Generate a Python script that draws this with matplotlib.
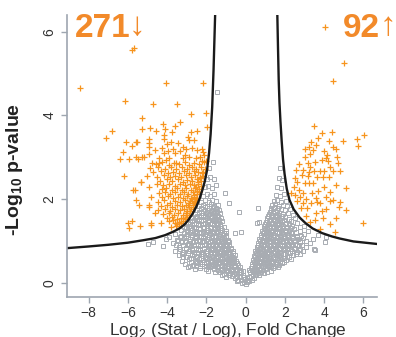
import numpy as np
import matplotlib
matplotlib.use("Agg")
from matplotlib import pyplot as plt

plt.rcParams['font.family'] = ['Liberation Sans', 'DejaVu Sans']
plt.rcParams['mathtext.fontset'] = 'custom'
plt.rcParams['mathtext.rm'] = 'Liberation Sans'
plt.rcParams['mathtext.bf'] = 'Liberation Sans:bold'

# threshold curves (log2 fold change, -log10 p)
curve_left_x = [-9.1, -8.0, -7.0, -6.0, -5.2, -4.6, -4.1, -3.7, -3.37, -3.1, -2.9, -2.69,
                -2.5, -2.35, -2.2, -2.08, -1.96, -1.86, -1.78, -1.7, -1.63, -1.55]
curve_left_y = [0.83, 0.87, 0.91, 0.96, 1.02, 1.07, 1.14, 1.22, 1.30, 1.40, 1.51, 1.66,
                1.83, 2.0, 2.22, 2.42, 2.70, 3.1, 3.55, 4.2, 5.1, 6.40]
curve_right_x = [1.62, 1.655, 1.69, 1.73, 1.78, 1.84, 1.91, 1.99, 2.1, 2.24, 2.45, 2.76,
                 3.05, 3.42, 3.9, 4.4, 4.8, 5.5, 6.7]
curve_right_y = [6.4, 5.6, 4.85, 4.3, 3.85, 3.4, 2.95, 2.6, 2.25, 1.98, 1.76, 1.56,
                 1.43, 1.30, 1.19, 1.11, 1.06, 0.99, 0.93]

# significant down (left, orange)
down_pts = [
    (-5.78, 5.57), (-5.71, 5.61), (-8.42, 4.66), (-4.05, 4.77), (-2.16, 4.78), (-6.12, 4.35),
    (-4.74, 4.28), (-3.5, 4.28), (-2.77, 4.04), (-2.02, 4.05), (-5.29, 3.93), (-4.22, 3.79),
    (-3.32, 3.84), (-5.26, 3.68), (-4.88, 3.70), (-4.58, 3.62), (-4.12, 3.68), (-3.62, 3.76),
    (-3.74, 3.61), (-2.48, 3.64), (-2.76, 3.60), (-1.95, 3.72), (-6.8, 3.64), (-7.09, 3.46),
    (-6.09, 3.37), (-5.8, 3.28), (-5.53, 3.37), (-4.93, 3.44), (-4.93, 3.35), (-4.93, 3.24),
    (-4.17, 3.54), (-4.17, 3.43), (-4.0, 3.33), (-3.79, 3.37), (-3.45, 3.34), (-3.2, 3.25),
    (-2.94, 3.48), (-2.89, 3.41), (-2.65, 3.41), (-6.26, 3.13), (-6.38, 2.97), (-5.95, 2.97),
    (-5.58, 3.01), (-5.49, 2.95), (-5.27, 3.01), (-5.15, 3.01), (-4.9, 3.08), (-4.76, 2.86),
    (-4.42, 2.98), (-4.39, 2.86), (-4.17, 3.11), (-4.05, 2.94), (-3.88, 2.98), (-3.57, 3.10),
    (-3.54, 2.86), (-3.2, 2.98), (-3.11, 3.06), (-2.86, 3.01), (-2.55, 2.98), (-2.3, 3.01),
    (-2.18, 3.13), (-2.0, 2.92), (-6.22, 2.56), (-5.32, 2.40), (-5.61, 2.22), (-4.93, 2.30),
    (-4.83, 2.04), (-4.93, 1.86), (-4.61, 1.66), (-4.81, 1.42), (-6.0, 1.42), (-5.78, 1.48),
    (-5.92, 1.30), (-5.36, 1.37), (-4.83, 1.38), (-5.58, 3.37), (-5.41, 1.86), (-4.9, 1.82),
    (-5.32, 2.42), (-5.75, 2.22), (-5.58, 1.98),
    (-4.62, 3.18), (-4.28, 3.22), (-3.96, 3.16), (-3.68, 3.21), (-3.32, 3.15), (-3.02, 3.19),
    (-2.72, 3.23), (-2.47, 3.17), (-2.21, 3.2),
    (-4.58, 2.83), (-4.24, 2.88), (-3.92, 2.82), (-3.63, 2.87), (-3.37, 2.84), (-3.08, 2.89),
    (-2.88, 2.81), (-2.61, 2.86), (-2.38, 2.83), (-2.13, 2.88),
    (-4.88, 2.74), (-4.46, 2.77), (-4.08, 2.72), (-3.79, 2.76), (-3.52, 2.73), (-3.24, 2.78),
    (-2.99, 2.72), (-2.74, 2.76), (-2.52, 2.71), (-2.27, 2.77), (-2.06, 2.73),
    (-4.72, 2.64), (-4.31, 2.67), (-3.96, 2.62), (-3.68, 2.66), (-3.41, 2.63), (-3.14, 2.68),
    (-2.86, 2.62), (-2.63, 2.67), (-2.41, 2.64), (-2.19, 2.66),
    (-5.02, 2.56), (-4.52, 2.53), (-4.16, 2.57), (-3.84, 2.52), (-3.57, 2.56), (-3.29, 2.53),
    (-3.04, 2.58), (-2.79, 2.54), (-2.56, 2.57), (-2.34, 2.52), (-2.15, 2.56),
    (-4.36, 2.44), (-4.02, 2.47), (-3.74, 2.43), (-3.46, 2.48), (-3.19, 2.42), (-2.96, 2.46),
    (-2.71, 2.43), (-2.49, 2.47), (-2.29, 2.44),
    (-4.51, 2.36), (-4.19, 2.33), (-3.89, 2.37), (-3.61, 2.32), (-3.36, 2.36), (-3.11, 2.33),
    (-2.84, 2.37), (-2.62, 2.34), (-2.41, 2.36), (-2.26, 2.32),
    (-4.28, 2.24), (-4.06, 2.27), (-3.76, 2.22), (-3.49, 2.26), (-3.24, 2.23), (-3.01, 2.27),
    (-2.79, 2.22), (-2.56, 2.26), (-2.36, 2.24),
    (-4.42, 2.14), (-4.11, 2.17), (-3.86, 2.12), (-3.59, 2.16), (-3.36, 2.13), (-3.14, 2.17),
    (-2.91, 2.12), (-2.69, 2.16), (-2.49, 2.13), (-2.37, 2.17),
    (-4.26, 2.04), (-3.96, 2.07), (-3.69, 2.02), (-3.44, 2.06), (-3.21, 2.03), (-2.99, 2.07),
    (-2.79, 2.02), (-2.61, 2.06), (-2.46, 2.03),
    (-4.48, 1.94), (-4.14, 1.97), (-3.86, 1.92), (-3.61, 1.96), (-3.34, 1.93), (-3.11, 1.97),
    (-2.89, 1.92), (-2.71, 1.96), (-2.56, 1.93),
    (-4.31, 1.84), (-3.99, 1.87), (-3.74, 1.82), (-3.51, 1.86), (-3.26, 1.83), (-3.04, 1.87),
    (-2.86, 1.82), (-2.67, 1.86),
    (-4.44, 1.74), (-4.09, 1.77), (-3.84, 1.72), (-3.61, 1.76), (-3.36, 1.73), (-3.14, 1.77),
    (-2.96, 1.72), (-2.77, 1.76),
    (-4.19, 1.64), (-3.91, 1.67), (-3.66, 1.62), (-3.44, 1.66), (-3.21, 1.63), (-3.01, 1.67),
    (-2.87, 1.63),
    (-4.02, 1.54), (-3.76, 1.57), (-3.51, 1.53), (-3.29, 1.56), (-3.09, 1.52), (-2.97, 1.58),
    (-4.31, 1.44), (-3.91, 1.47), (-3.61, 1.43), (-3.39, 1.46), (-3.19, 1.47),
    (-3.81, 1.34), (-3.56, 1.37), (-3.41, 1.36),
    (-2.45, 2.2), (-2.52, 2.0), (-2.62, 1.9), (-2.7, 1.82), (-2.82, 1.72), (-2.4, 2.4),
    (-2.3, 2.5), (-2.2, 2.62), (-2.55, 2.3), (-2.65, 2.1), (-2.75, 2.0), (-2.85, 1.95),
    (-2.95, 1.85), (-3.05, 1.62), (-3.2, 1.55), (-3.3, 1.42), (-3.5, 1.41), (-3.7, 1.5),
    (-2.2, 2.92), (-2.1, 3.05),
]

# significant up (right, orange)
up_pts = [
    (4.03, 6.12), (5.02, 5.25), (4.45, 4.83),
    (3.47, 3.76), (3.91, 3.57), (4.42, 3.61), (3.71, 3.47), (4.25, 3.40), (3.33, 3.37),
    (4.97, 3.40), (5.68, 3.44), (6.04, 3.54), (5.71, 3.28), (3.05, 3.21), (3.23, 3.25),
    (3.43, 3.17), (3.27, 3.08), (4.45, 3.25), (4.63, 3.21), (4.66, 3.01), (3.88, 2.94),
    (4.08, 2.98), (4.2, 2.92), (4.15, 3.06), (3.18, 2.86), (3.3, 2.76), (3.23, 2.66),
    (3.47, 2.68), (3.78, 2.68), (3.98, 2.68), (4.32, 2.78), (4.45, 2.68), (4.8, 2.68),
    (4.71, 2.86), (2.5, 2.51), (2.89, 2.58), (3.01, 2.38), (3.23, 2.38), (3.43, 2.39),
    (3.64, 2.52), (3.94, 2.52), (4.25, 2.54), (4.63, 2.35), (5.1, 2.27), (2.72, 2.23),
    (2.92, 2.15), (2.76, 2.06), (3.1, 2.01), (3.61, 2.02), (3.64, 1.94), (4.12, 2.06),
    (4.29, 2.18), (4.45, 1.98), (4.8, 1.94), (4.76, 1.82), (5.1, 1.74), (2.3, 2.15),
    (2.5, 2.1), (2.84, 1.80), (3.1, 1.60), (3.57, 1.66), (3.91, 1.72), (4.12, 1.76),
    (3.94, 1.54), (4.29, 1.40), (3.78, 1.28), (4.54, 1.22), (5.99, 1.42),
    (2.6, 2.4), (2.95, 2.7), (3.55, 2.9), (4.0, 3.15), (3.6, 3.3), (2.7, 2.85),
    (3.35, 1.92), (3.8, 1.9), (4.0, 2.3), (3.4, 2.15), (2.6, 1.95), (3.3, 1.45),
    (3.55, 1.5), (4.6, 1.55), (2.45, 2.3), (3.15, 1.78), (2.95, 1.9), (3.7, 2.2),
    (4.3, 1.95), (3.2, 2.55), (2.55, 2.7), (3.05, 3.0),
]

# not significant (grey)
ns_pts = [
    (-0.25, 0.06), (-0.1, 0.02), (0.0, -0.03), (0.08, 0.01), (0.2, 0.05), (-0.18, -0.01),
    (0.12, 0.08), (-0.05, 0.09),
    (-0.7, 0.16), (-0.55, 0.12), (-0.42, 0.17), (-0.3, 0.13), (-0.15, 0.18), (0.18, 0.14),
    (0.3, 0.17), (0.42, 0.12), (0.55, 0.18), (-0.85, 0.2),
    (-1.3, 0.27), (-1.1, 0.22), (-0.95, 0.28), (-0.8, 0.24), (-0.62, 0.29), (-0.5, 0.23),
    (-0.35, 0.27), (-0.22, 0.25), (0.25, 0.26), (0.38, 0.22), (0.5, 0.28), (0.65, 0.24),
    (0.8, 0.27), (0.95, 0.23),
    (-2.3, 0.36), (-2.0, 0.33), (-1.8, 0.38), (-1.6, 0.34), (-1.45, 0.37), (-1.25, 0.32),
    (-1.1, 0.38), (-0.92, 0.35), (-0.75, 0.33), (-0.6, 0.38), (-0.45, 0.34), (-0.3, 0.37),
    (0.28, 0.36), (0.42, 0.33), (0.58, 0.38), (0.72, 0.34), (0.88, 0.37), (1.05, 0.33),
    (1.2, 0.38), (1.4, 0.35), (1.65, 0.37), (-2.95, 0.38),
    (-3.1, 0.46), (-2.7, 0.43), (-2.45, 0.47), (-2.2, 0.44), (-2.0, 0.48), (-1.85, 0.42),
    (-1.68, 0.46), (-1.5, 0.44), (-1.35, 0.48), (-1.18, 0.43), (-1.02, 0.47), (-0.85, 0.44),
    (-0.7, 0.48), (-0.55, 0.43), (-0.42, 0.47), (0.32, 0.45), (0.48, 0.48), (0.62, 0.43),
    (0.78, 0.47), (0.92, 0.44), (1.08, 0.48), (1.25, 0.43), (1.42, 0.47), (1.6, 0.45),
    (1.85, 0.48),
    (-2.9, 0.56), (-2.6, 0.53), (-2.35, 0.57), (-2.15, 0.54), (-1.95, 0.58), (-1.78, 0.53),
    (-1.6, 0.57), (-1.42, 0.54), (-1.28, 0.58), (-1.12, 0.53), (-0.95, 0.57), (-0.8, 0.54),
    (-0.65, 0.58), (-0.5, 0.53), (0.38, 0.55), (0.52, 0.58), (0.68, 0.53), (0.82, 0.57),
    (0.98, 0.54), (1.15, 0.58), (1.3, 0.53), (1.48, 0.56), (1.65, 0.54), (1.82, 0.58),
    (2.05, 0.55), (2.3, 0.57),
    (-3.4, 0.66), (-3.05, 0.63), (-2.75, 0.67), (-2.5, 0.64), (-2.28, 0.68), (-2.08, 0.63),
    (-1.9, 0.67), (-1.72, 0.64), (-1.55, 0.68), (-1.38, 0.63), (-1.22, 0.67), (-1.05, 0.64),
    (-0.88, 0.68), (-0.72, 0.63), (-0.55, 0.66), (0.45, 0.64), (0.6, 0.68), (0.75, 0.63),
    (0.9, 0.67), (1.05, 0.64), (1.22, 0.68), (1.38, 0.63), (1.55, 0.67), (1.72, 0.64),
    (1.9, 0.68), (2.12, 0.63), (2.4, 0.66), (2.75, 0.68),
    (-3.6, 0.76), (-3.2, 0.73), (-2.9, 0.77), (-2.62, 0.74), (-2.4, 0.78), (-2.2, 0.73),
    (-2.0, 0.77), (-1.82, 0.74), (-1.65, 0.78), (-1.48, 0.73), (-1.3, 0.77), (-1.15, 0.74),
    (-0.98, 0.78), (-0.82, 0.73), (-0.65, 0.76), (0.5, 0.75), (0.65, 0.78), (0.8, 0.73),
    (0.95, 0.77), (1.1, 0.74), (1.28, 0.78), (1.45, 0.73), (1.6, 0.77), (1.78, 0.74),
    (1.95, 0.78), (2.15, 0.73), (2.35, 0.77), (2.6, 0.74), (2.95, 0.76),
    (-4.2, 0.88), (-3.4, 0.86), (-3.05, 0.83), (-2.78, 0.87), (-2.52, 0.84), (-2.3, 0.88),
    (-2.1, 0.83), (-1.92, 0.87), (-1.75, 0.84), (-1.58, 0.88), (-1.4, 0.83), (-1.25, 0.87),
    (-1.08, 0.84), (-0.92, 0.88), (-0.75, 0.83), (0.58, 0.86), (0.72, 0.83), (0.88, 0.87),
    (1.02, 0.84), (1.18, 0.88), (1.35, 0.83), (1.5, 0.87), (1.68, 0.84), (1.85, 0.88),
    (2.02, 0.83), (2.22, 0.87), (2.45, 0.84), (2.7, 0.88), (3.1, 0.85), (3.5, 0.82),
    (-4.98, 0.94), (-4.73, 0.98), (-3.7, 0.95), (-3.25, 0.97), (-2.95, 0.93), (-2.68, 0.97),
    (-2.42, 0.94), (-2.2, 0.98), (-2.0, 0.93), (-1.82, 0.97), (-1.65, 0.94), (-1.48, 0.98),
    (-1.32, 0.93), (-1.15, 0.97), (-0.98, 0.94), (-0.82, 0.98), (0.62, 0.96), (0.78, 0.93),
    (0.95, 0.97), (1.1, 0.94), (1.25, 0.98), (1.42, 0.93), (1.58, 0.97), (1.75, 0.94),
    (1.92, 0.98), (2.1, 0.93), (2.3, 0.97), (2.52, 0.94), (2.8, 0.98), (3.3, 0.95),
    (-4.05, 1.06), (-3.91, 1.09), (-3.5, 1.03), (-3.15, 1.07), (-2.85, 1.04), (-2.6, 1.08),
    (-2.38, 1.03), (-2.15, 1.07), (-1.95, 1.04), (-1.78, 1.08), (-1.6, 1.03), (-1.42, 1.07),
    (-1.25, 1.04), (-1.08, 1.08), (-0.9, 1.03), (0.7, 1.06), (0.85, 1.03), (1.0, 1.07),
    (1.15, 1.04), (1.32, 1.08), (1.48, 1.03), (1.65, 1.07), (1.82, 1.04), (2.0, 1.08),
    (2.2, 1.03), (2.42, 1.07), (2.65, 1.04), (2.95, 1.08), (3.45, 1.05), (4.03, 0.98),
    (-3.6, 1.16), (-3.28, 1.13), (-2.98, 1.17), (-2.72, 1.14), (-2.48, 1.18), (-2.25, 1.13),
    (-2.05, 1.17), (-1.85, 1.14), (-1.68, 1.18), (-1.5, 1.13), (-1.32, 1.17), (-1.15, 1.14),
    (-0.98, 1.18), (0.78, 1.15), (0.92, 1.18), (1.08, 1.13), (1.25, 1.17), (1.4, 1.14),
    (1.58, 1.18), (1.75, 1.13), (1.92, 1.17), (2.12, 1.14), (2.35, 1.18), (2.6, 1.13),
    (3.0, 1.16), (3.69, 1.14), (3.52, 0.78), (4.1, 1.1),
    (-3.3, 1.26), (-3.0, 1.23), (-2.75, 1.27), (-2.52, 1.24), (-2.3, 1.28), (-2.1, 1.23),
    (-1.9, 1.27), (-1.72, 1.24), (-1.55, 1.28), (-1.38, 1.23), (-1.2, 1.27), (-1.02, 1.24),
    (0.85, 1.25), (1.0, 1.28), (1.15, 1.23), (1.32, 1.27), (1.48, 1.24), (1.65, 1.28),
    (1.82, 1.23), (2.0, 1.27), (2.2, 1.24), (2.45, 1.28), (2.8, 1.25), (3.2, 1.23),
    (-3.15, 1.33), (-2.88, 1.37), (-2.62, 1.34), (-2.4, 1.38), (-2.18, 1.33), (-1.98, 1.37),
    (-1.8, 1.34), (-1.62, 1.38), (-1.45, 1.33), (-1.28, 1.37), (-1.1, 1.34), (0.95, 1.36),
    (1.1, 1.33), (1.25, 1.37), (1.42, 1.34), (1.58, 1.38), (1.75, 1.33), (1.92, 1.37),
    (2.12, 1.34), (2.38, 1.37), (2.75, 1.34), (3.0, 1.36),
    (-2.95, 1.44), (-2.72, 1.47), (-2.5, 1.43), (-2.28, 1.48), (-2.08, 1.44), (-1.9, 1.47),
    (-1.72, 1.43), (-1.55, 1.48), (-1.38, 1.44), (-1.2, 1.47), (1.02, 1.45), (1.18, 1.48),
    (1.35, 1.43), (1.52, 1.47), (1.7, 1.44), (1.88, 1.48), (2.08, 1.43), (2.32, 1.47),
    (2.62, 1.44),
    (-2.78, 1.54), (-2.55, 1.57), (-2.35, 1.53), (-2.15, 1.58), (-1.96, 1.54), (-1.78, 1.57),
    (-1.6, 1.53), (-1.42, 1.58), (-1.25, 1.55), (1.1, 1.55), (1.28, 1.58), (1.45, 1.53),
    (1.62, 1.57), (1.8, 1.54), (2.0, 1.58), (2.22, 1.53), (2.5, 1.56),
    (-2.58, 1.64), (-2.38, 1.67), (-2.18, 1.63), (-2.0, 1.68), (-1.82, 1.64), (-1.65, 1.67),
    (-1.48, 1.63), (-1.3, 1.66), (1.2, 1.65), (1.38, 1.68), (1.55, 1.63), (1.72, 1.67),
    (1.92, 1.64), (2.15, 1.66), (2.4, 1.62),
    (-2.45, 1.74), (-2.25, 1.77), (-2.05, 1.73), (-1.88, 1.78), (-1.7, 1.74), (-1.52, 1.77),
    (-1.35, 1.73), (1.28, 1.75), (1.45, 1.78), (1.62, 1.73), (1.8, 1.77), (2.0, 1.74),
    (2.25, 1.76),
    (-2.35, 1.84), (-2.15, 1.87), (-1.95, 1.83), (-1.78, 1.88), (-1.6, 1.84), (-1.42, 1.87),
    (1.35, 1.85), (1.52, 1.88), (1.7, 1.83), (1.9, 1.87), (2.12, 1.84),
    (-2.25, 1.94), (-2.05, 1.97), (-1.88, 1.93), (-1.7, 1.98), (-1.5, 1.95), (1.45, 1.95),
    (1.62, 1.98), (1.82, 1.93), (2.05, 1.96),
    (-2.18, 2.08), (-1.98, 2.12), (-1.8, 2.07), (-1.6, 2.12), (1.55, 2.1), (1.75, 2.07),
    (1.95, 2.12),
    (-2.08, 2.28), (-1.9, 2.32), (-1.7, 2.27), (-1.5, 2.33), (1.62, 2.3), (1.82, 2.27),
    (-1.98, 2.48), (-1.8, 2.52), (-1.6, 2.47), (1.72, 2.5), (1.88, 2.46),
    (-1.85, 2.75), (-1.67, 2.9), (-1.44, 4.55), (1.75, 2.75),
    (-0.31, 1.70), (0.63, 1.78), (0.71, 1.46), (-0.22, 1.22), (-0.56, 1.2), (-1.07, 2.14),
    (-0.82, 1.9), (0.58, 1.42),
]

# more grey in the dense part of the cloud
ns_dense = [
    (-1.2, 0.19), (-1.0, 0.15), (-0.6, 0.21), (-0.38, 0.08), (0.35, 0.08), (0.48, 0.2),
    (0.7, 0.19), (-0.08, 0.14), (0.05, 0.12), (-0.45, 0.05),
    (-1.9, 0.29), (-1.55, 0.26), (-1.4, 0.3), (-1.18, 0.3), (-1.02, 0.31), (-0.88, 0.3),
    (-0.7, 0.31), (-0.56, 0.31), (-0.42, 0.3), (-0.28, 0.31), (-0.15, 0.28), (0.2, 0.3),
    (0.32, 0.3), (0.45, 0.31), (0.6, 0.31), (0.75, 0.3), (0.9, 0.31), (1.1, 0.27),
    (1.3, 0.29), (-2.6, 0.32),
    (-2.85, 0.41), (-2.55, 0.4), (-2.32, 0.41), (-2.12, 0.4), (-1.92, 0.41), (-1.74, 0.4),
    (-1.56, 0.41), (-1.4, 0.4), (-1.22, 0.41), (-1.05, 0.4), (-0.88, 0.41), (-0.72, 0.4),
    (-0.56, 0.41), (-0.4, 0.42), (0.35, 0.41), (0.5, 0.4), (0.65, 0.41), (0.8, 0.4),
    (0.98, 0.41), (1.15, 0.4), (1.32, 0.41), (1.5, 0.4), (1.72, 0.42),
    (-3.25, 0.52), (-2.8, 0.5), (-2.55, 0.51), (-2.32, 0.5), (-2.1, 0.51), (-1.9, 0.5),
    (-1.72, 0.51), (-1.55, 0.5), (-1.38, 0.51), (-1.22, 0.5), (-1.05, 0.51), (-0.9, 0.5),
    (-0.75, 0.51), (-0.6, 0.5), (0.42, 0.5), (0.58, 0.51), (0.72, 0.5), (0.88, 0.51),
    (1.02, 0.5), (1.2, 0.51), (1.36, 0.5), (1.55, 0.51), (1.75, 0.5), (1.98, 0.51),
    (-3.2, 0.61), (-2.78, 0.6), (-2.48, 0.61), (-2.25, 0.6), (-2.02, 0.61), (-1.85, 0.6),
    (-1.66, 0.61), (-1.5, 0.6), (-1.32, 0.61), (-1.18, 0.6), (-1.0, 0.61), (-0.85, 0.6),
    (-0.7, 0.61), (-0.58, 0.6), (0.5, 0.61), (0.66, 0.6), (0.8, 0.61), (0.95, 0.6),
    (1.1, 0.61), (1.26, 0.6), (1.42, 0.61), (1.6, 0.6), (1.78, 0.61), (1.98, 0.6),
    (2.22, 0.61),
    (-3.25, 0.7), (-2.95, 0.71), (-2.65, 0.7), (-2.4, 0.71), (-2.18, 0.7), (-1.98, 0.71),
    (-1.8, 0.7), (-1.62, 0.71), (-1.46, 0.7), (-1.3, 0.71), (-1.14, 0.7), (-0.98, 0.71),
    (-0.8, 0.7), (-0.65, 0.71), (0.55, 0.71), (0.7, 0.7), (0.85, 0.71), (1.0, 0.7),
    (1.15, 0.71), (1.32, 0.7), (1.48, 0.71), (1.65, 0.7), (1.82, 0.71), (2.02, 0.7),
    (2.25, 0.71), (2.55, 0.7),
    (-3.35, 0.8), (-3.02, 0.81), (-2.75, 0.8), (-2.5, 0.81), (-2.3, 0.8), (-2.1, 0.81),
    (-1.9, 0.8), (-1.72, 0.81), (-1.55, 0.8), (-1.4, 0.81), (-1.22, 0.8), (-1.06, 0.81),
    (-0.9, 0.8), (-0.72, 0.81), (0.6, 0.8), (0.75, 0.81), (0.9, 0.8), (1.05, 0.81),
    (1.2, 0.8), (1.38, 0.81), (1.55, 0.8), (1.72, 0.81), (1.9, 0.8), (2.1, 0.81),
    (2.3, 0.8), (2.52, 0.81), (2.8, 0.8),
    (-3.55, 0.9), (-3.2, 0.91), (-2.9, 0.9), (-2.65, 0.91), (-2.42, 0.9), (-2.2, 0.91),
    (-2.0, 0.9), (-1.84, 0.91), (-1.66, 0.9), (-1.5, 0.91), (-1.32, 0.9), (-1.16, 0.91),
    (-1.0, 0.9), (-0.85, 0.91), (0.66, 0.9), (0.8, 0.91), (0.96, 0.9), (1.1, 0.91),
    (1.26, 0.9), (1.43, 0.91), (1.6, 0.9), (1.77, 0.91), (1.95, 0.9), (2.15, 0.91),
    (2.35, 0.9), (2.6, 0.91), (2.9, 0.9),
    (-3.45, 1.0), (-3.1, 1.01), (-2.82, 1.0), (-2.55, 1.01), (-2.3, 1.0), (-2.1, 1.01),
    (-1.9, 1.0), (-1.72, 1.01), (-1.55, 1.0), (-1.38, 1.01), (-1.22, 1.0), (-1.05, 1.01),
    (-0.88, 1.0), (0.72, 1.0), (0.88, 1.01), (1.05, 1.0), (1.2, 1.01), (1.38, 1.0),
    (1.55, 1.01), (1.72, 1.0), (1.9, 1.01), (2.08, 1.0), (2.28, 1.01), (2.5, 1.0),
    (2.75, 1.01), (3.1, 1.0),
    (-3.35, 1.1), (-3.02, 1.11), (-2.75, 1.1), (-2.5, 1.11), (-2.28, 1.1), (-2.05, 1.11),
    (-1.88, 1.1), (-1.7, 1.11), (-1.52, 1.1), (-1.35, 1.11), (-1.18, 1.1), (-1.0, 1.11),
    (0.8, 1.1), (0.95, 1.11), (1.1, 1.1), (1.26, 1.11), (1.42, 1.1), (1.6, 1.11),
    (1.78, 1.1), (1.96, 1.11), (2.15, 1.1), (2.38, 1.11), (2.62, 1.1), (2.85, 1.11),
    (-3.15, 1.2), (-2.85, 1.21), (-2.6, 1.2), (-2.38, 1.21), (-2.18, 1.2), (-1.98, 1.21),
    (-1.8, 1.2), (-1.62, 1.21), (-1.45, 1.2), (-1.28, 1.21), (-1.1, 1.2), (0.88, 1.2),
    (1.05, 1.21), (1.2, 1.2), (1.36, 1.21), (1.52, 1.2), (1.7, 1.21), (1.88, 1.2),
    (2.08, 1.21), (2.3, 1.2), (2.55, 1.21),
    (-3.05, 1.3), (-2.8, 1.31), (-2.55, 1.3), (-2.32, 1.31), (-2.12, 1.3), (-1.94, 1.31),
    (-1.76, 1.3), (-1.58, 1.31), (-1.42, 1.3), (-1.25, 1.31), (0.92, 1.3), (1.08, 1.31),
    (1.22, 1.3), (1.38, 1.31), (1.55, 1.3), (1.72, 1.31), (1.9, 1.3), (2.08, 1.31),
    (2.3, 1.3),
    (-2.85, 1.4), (-2.62, 1.41), (-2.4, 1.4), (-2.18, 1.41), (-1.98, 1.4), (-1.8, 1.41),
    (-1.62, 1.4), (-1.46, 1.41), (-1.3, 1.4), (1.0, 1.4), (1.15, 1.41), (1.3, 1.4),
    (1.48, 1.41), (1.65, 1.4), (1.82, 1.41), (2.0, 1.4), (2.22, 1.41),
    (-2.65, 1.5), (-2.45, 1.51), (-2.25, 1.5), (-2.05, 1.51), (-1.86, 1.5), (-1.68, 1.51),
    (-1.5, 1.5), (-1.35, 1.51), (1.08, 1.5), (1.25, 1.51), (1.42, 1.5), (1.6, 1.51),
    (1.78, 1.5), (1.95, 1.51),
    (-2.48, 1.6), (-2.28, 1.61), (-2.08, 1.6), (-1.9, 1.61), (-1.72, 1.6), (-1.55, 1.61),
    (-1.4, 1.6), (1.15, 1.6), (1.32, 1.61), (1.5, 1.6), (1.68, 1.61), (1.85, 1.6),
    (-2.35, 1.7), (-2.15, 1.71), (-1.96, 1.7), (-1.78, 1.71), (-1.6, 1.7), (-1.45, 1.71),
    (1.25, 1.7), (1.42, 1.71), (1.6, 1.7),
    (-2.25, 1.8), (-2.05, 1.81), (-1.86, 1.8), (-1.68, 1.81), (-1.5, 1.8), (1.3, 1.8),
    (1.48, 1.81), (1.65, 1.8),
]

down = np.array(down_pts)
up = np.array(up_pts)
ns = np.array(ns_pts + ns_dense)

orange = '#f7941d'
text_orange = '#f28a2a'
grey = '#a8acb2'
axis_col = '#9ea6b0'

fig = plt.figure(figsize=(3.96, 3.37), dpi=100)
ax = fig.add_axes([67/396, 1 - 296.7/337, 310/396, 281.7/337])

ax.plot(ns[:, 0], ns[:, 1], ls='none', marker='s', ms=3.2, mfc='none',
        mec=grey, mew=0.7)
ax.plot(down[:, 0], down[:, 1], ls='none', marker='+', ms=5, mec=orange, mew=0.9)
ax.plot(up[:, 0], up[:, 1], ls='none', marker='+', ms=5, mec=orange, mew=0.9)
ax.plot(curve_left_x, curve_left_y, color='#1a1a1a', lw=1.7)
ax.plot(curve_right_x, curve_right_y, color='#1a1a1a', lw=1.7)

ax.set_xlim(-9.1, 6.7)
ax.set_ylim(-0.33, 6.4)
ax.set_xticks([-8, -6, -4, -2, 0, 2, 4, 6])
ax.set_yticks([0, 2, 4, 6])
for s in ['top', 'right']:
    ax.spines[s].set_visible(False)
for s in ['left', 'bottom']:
    ax.spines[s].set_color(axis_col)
    ax.spines[s].set_linewidth(1.2)
ax.tick_params(colors=axis_col, labelcolor='#333333', labelsize=10, length=4, width=1)
ax.tick_params(axis='x', pad=2.5)
for lab in ax.get_yticklabels():
    lab.set_rotation(90)
    lab.set_va('center')

ax.set_xlabel(r'Log$_2$ (Stat / Log), Fold Change', fontsize=12.5, color='#333333')
ax.xaxis.set_label_coords(0.52, -0.088)
ax.set_ylabel(r'-Log$_{\mathbf{10}}$ p-value', fontsize=14, fontweight='bold',
              color='#222222')
ax.yaxis.set_label_coords(-0.135, 0.45)

fig.text(75/396, 1 - 37.3/337, '271', fontsize=24, fontweight='bold', color=text_orange,
         va='baseline', ha='left')
fig.text(129/396, 1 - 11/337, '\u2193', fontsize=24, color=text_orange, va='top', ha='left')
fig.text(343/396, 1 - 37.3/337, '92', fontsize=24, fontweight='bold', color=text_orange,
         va='baseline', ha='left')
fig.text(380/396, 1 - 11/337, '\u2191', fontsize=24, color=text_orange, va='top', ha='left')

fig.savefig('out.png', dpi=100)
